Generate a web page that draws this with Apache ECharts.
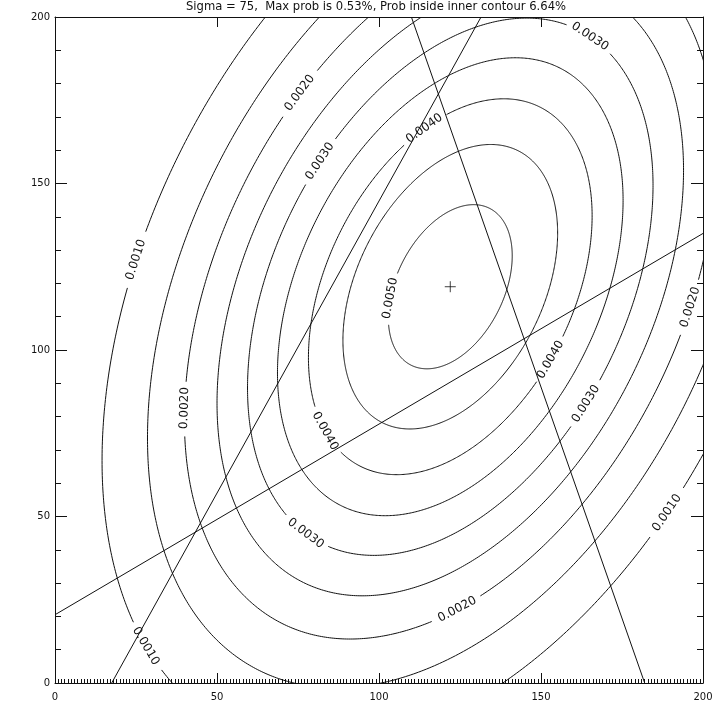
<!DOCTYPE html>
<html><head><meta charset="utf-8">
<script src="https://cdn.jsdelivr.net/npm/echarts@6/dist/echarts.min.js"></script>
<style>html,body{margin:0;padding:0;background:#fff}#c{width:720px;height:720px}</style>
</head><body><div id="c"></div>
<script>
// ---- data ----
const titleText = 'Sigma = 75,  Max prob is 0.53%, Prob inside inner contour 6.64%';
const xTickValues = [0, 50, 100, 150, 200];
const yTickValues = [0, 50, 100, 150, 200];
const contourLevels = [0.0010, 0.0015, 0.0020, 0.0025, 0.0030, 0.0035, 0.0040, 0.0045, 0.0050];
const peakProb = 0.00527;          // maximum of the distribution
const peakPoint = [122, 119];      // location of the maximum (the + marker)
const sigmaX = 58.95;              // spread along x
const sigmaY = 76;                 // spread along y
const rhoXY = 0.377;               // x/y correlation
const bearingA = [[0, 20.5], [200, 135]];
const bearingB = [[17.5, 0], [131.5, 200]];
const bearingC = [[182, 0], [110, 200]];
// contour labels: [level, approx x, approx y]
const contourLabels = [
  [0.0030, 165.1, 194.3],
  [0.0040, 113.9, 166.7],
  [0.0020, 74.7, 177.5],
  [0.0030, 80.2, 157.7],
  [0.0010, 26.5, 126.4],
  [0.0050, 103.4, 115.5],
  [0.0020, 39.4, 83.0],
  [0.0040, 83.9, 76.0],
  [0.0030, 77.7, 45.0],
  [0.0040, 152.8, 97.0],
  [0.0030, 163.6, 84.0],
  [0.0020, 197.5, 112.0],
  [0.0010, 189.3, 51.0],
  [0.0020, 124.5, 21.8],
  [0.0010, 27.8, 11.4]
];
// ----------------------------------------------

const INK = '#111';
const FONT = '"DejaVu Sans", sans-serif';

function renderContour(params, api) {
  const level = contourLevels[params.dataIndex];
  const k = Math.sqrt(2 * Math.log(peakProb / level));
  const N = 720;
  const s = Math.sqrt(1 - rhoXY * rhoXY);
  const pts = [];
  for (let j = 0; j <= N; j++) {
    const t = 2 * Math.PI * j / N;
    const x = peakPoint[0] + k * sigmaX * Math.cos(t);
    const y = peakPoint[1] + k * sigmaY * (rhoXY * Math.cos(t) + s * Math.sin(t));
    pts.push(api.coord([x, y]));
  }
  const children = [];
  const gaps = [];
  contourLabels.filter(l => Math.abs(l[0] - level) < 1e-9).forEach(l => {
    const p = api.coord([l[1], l[2]]);
    let best = 0, bd = Infinity;
    for (let j = 0; j < N; j++) {
      const d = (pts[j][0] - p[0]) ** 2 + (pts[j][1] - p[1]) ** 2;
      if (d < bd) { bd = d; best = j; }
    }
    const a = pts[(best - 3 + N) % N], b = pts[(best + 3) % N];
    let ang = Math.atan2(-(b[1] - a[1]), b[0] - a[0]);
    if (ang > Math.PI / 2) ang -= Math.PI;
    if (ang < -Math.PI / 2) ang += Math.PI;
    const c = pts[best];
    gaps.push(c);
    children.push({
      type: 'text', x: c[0], y: c[1], rotation: ang, z2: 10,
      style: { text: level.toFixed(4), fill: INK, font: '12px ' + FONT,
               align: 'center', verticalAlign: 'middle', textAlign: 'center', textVerticalAlign: 'middle' }
    });
  });
  const gapR = 26;
  let seg = [];
  const flush = () => {
    if (seg.length > 1) children.push({ type: 'polyline', shape: { points: seg },
      style: { stroke: INK, lineWidth: 1, fill: null } });
    seg = [];
  };
  for (const p of pts) {
    if (gaps.some(g => Math.hypot(p[0] - g[0], p[1] - g[1]) < gapR)) flush();
    else seg.push(p);
  }
  flush();
  return { type: 'group', children };
}

const chart = echarts.init(document.getElementById('c'), null, { renderer: 'canvas' });
const axisCommon = {
  type: 'value', min: 0, max: 200, interval: 50,
  splitLine: { show: false },
  axisLine: { show: true, onZero: false, lineStyle: { color: INK, width: 1 } }
};
const bearingStyle = { color: INK, width: 1 };
chart.setOption({
  animation: false,
  backgroundColor: '#fff',
  title: {
    text: titleText, left: 376, top: 1, padding: 0, textAlign: 'center',
    textStyle: { fontFamily: FONT, fontSize: 11.6, fontWeight: 'normal', color: INK }
  },
  grid: { left: 55, right: 17, top: 17, bottom: 37 },
  xAxis: [
    Object.assign({}, axisCommon, {
      position: 'bottom',
      axisTick: { show: true, inside: true, length: 10, lineStyle: { color: INK } },
      minorTick: { show: true, splitNumber: 50, length: 4, lineStyle: { color: INK } },
      axisLabel: { show: true, fontFamily: FONT, fontSize: 10, color: INK, margin: 9,
        customValues: xTickValues, formatter: v => String(v) }
    }),
    Object.assign({}, axisCommon, {
      position: 'top',
      axisTick: { show: true, inside: true, length: 10, lineStyle: { color: INK } },
      axisLabel: { show: false }
    })
  ],
  yAxis: [
    Object.assign({}, axisCommon, {
      position: 'left',
      axisTick: { show: true, inside: true, length: 12, lineStyle: { color: INK } },
      minorTick: { show: true, splitNumber: 5, length: 6, lineStyle: { color: INK } },
      axisLabel: { show: true, fontFamily: FONT, fontSize: 10, color: INK, margin: 5,
        customValues: yTickValues, formatter: v => String(v) }
    }),
    Object.assign({}, axisCommon, {
      position: 'right',
      axisTick: { show: true, inside: true, length: 12, lineStyle: { color: INK } },
      minorTick: { show: true, splitNumber: 5, length: 6, lineStyle: { color: INK } },
      axisLabel: { show: false }
    })
  ],
  series: [
    {
      type: 'custom', coordinateSystem: 'cartesian2d', xAxisIndex: 0, yAxisIndex: 0,
      clip: true, silent: true,
      data: contourLevels.map(v => [peakPoint[0], peakPoint[1], v]),
      renderItem: renderContour
    },
    { type: 'line', data: bearingA, showSymbol: false, lineStyle: bearingStyle, clip: true, silent: true },
    { type: 'line', data: bearingB, showSymbol: false, lineStyle: bearingStyle, clip: true, silent: true },
    { type: 'line', data: bearingC, showSymbol: false, lineStyle: bearingStyle, clip: true, silent: true },
    {
      type: 'scatter', data: [peakPoint], symbol: 'path://M0,10L20,10M10,0L10,20', symbolSize: 11,
      itemStyle: { color: 'none', borderColor: INK, borderWidth: 1 }, silent: true
    }
  ]
});
</script>
</body></html>
